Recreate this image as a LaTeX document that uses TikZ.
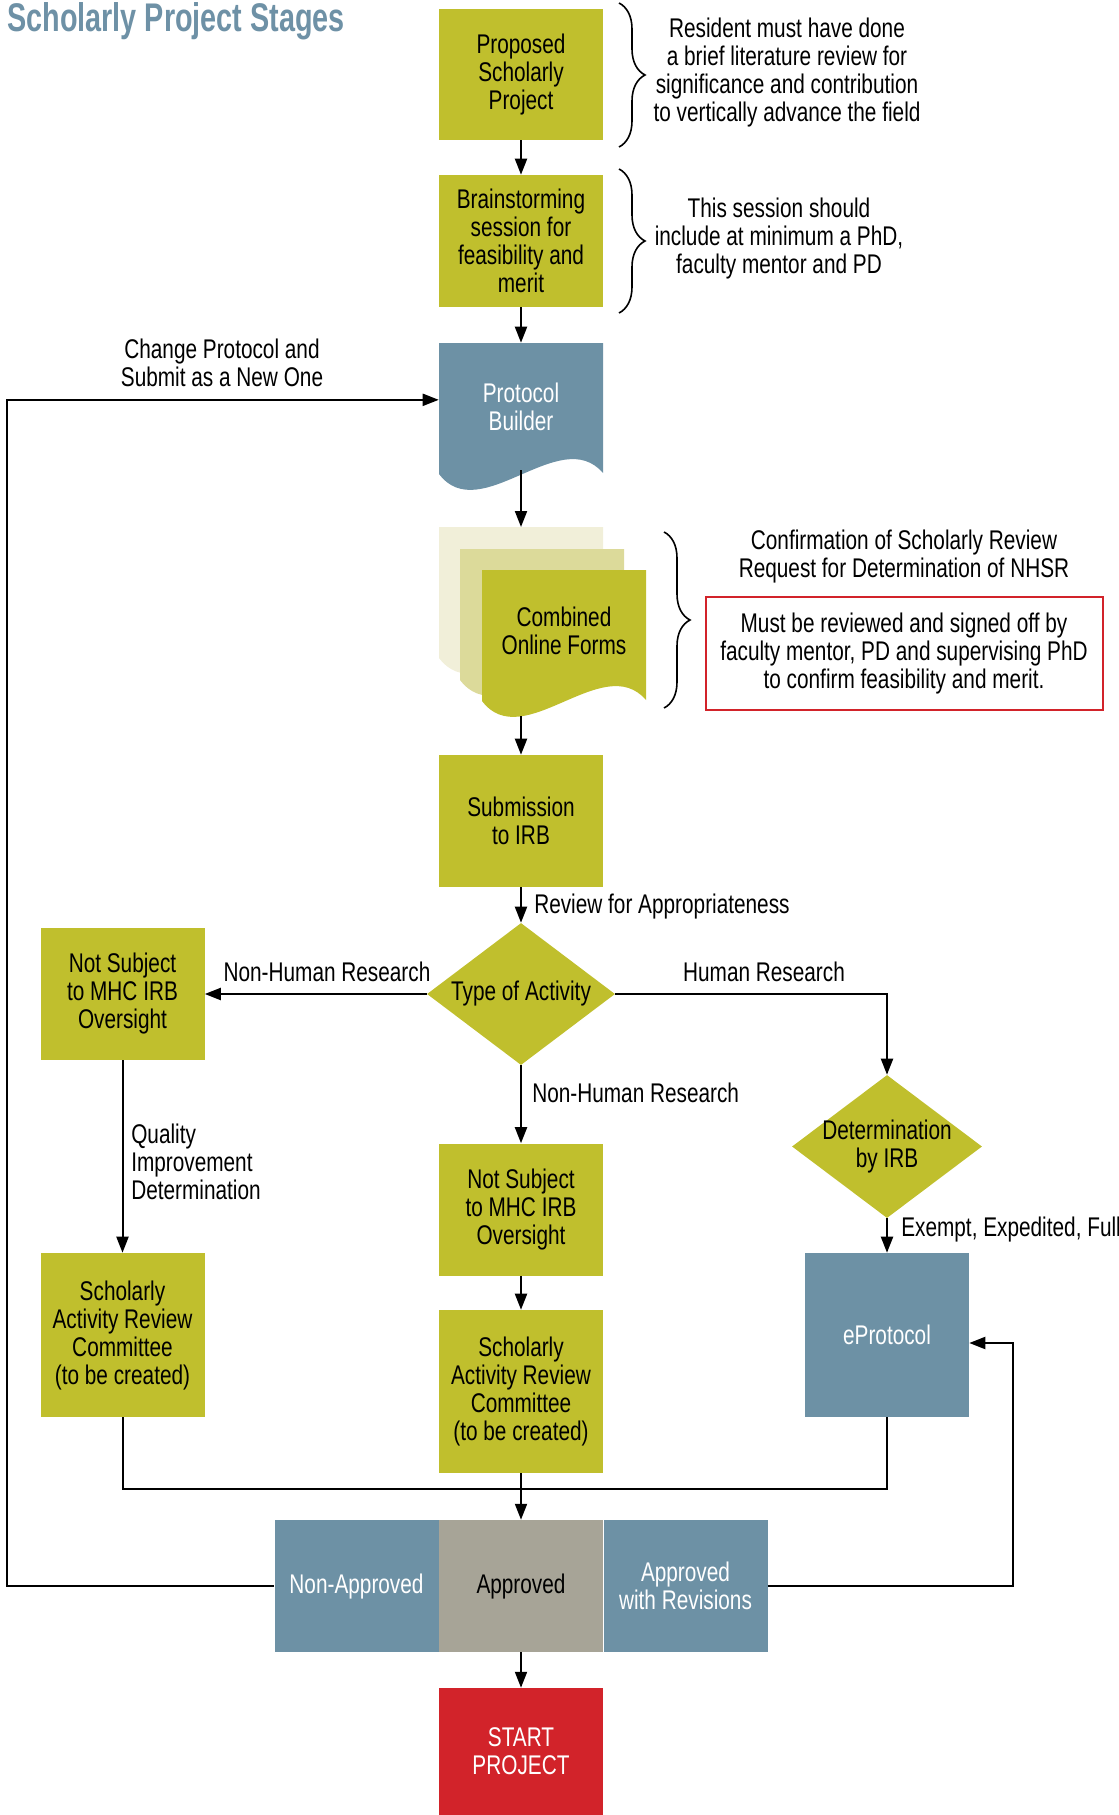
\documentclass[tikz,border=0pt]{standalone}
\usepackage{fontspec}
\setmainfont{Liberation Sans}[FakeStretch=0.77]
\usepackage{tikz}
\usetikzlibrary{positioning,shapes.geometric,arrows.meta,decorations.pathreplacing}

\definecolor{boxgreen}{RGB}{192,191,45}
\definecolor{boxblue}{RGB}{109,145,165}
\definecolor{boxgray}{RGB}{167,164,151}
\definecolor{boxred}{RGB}{210,35,42}
\definecolor{docpale}{RGB}{241,239,217}
\definecolor{docmid}{RGB}{220,218,154}
\definecolor{titleblue}{RGB}{110,145,166}

\begin{document}
\begin{tikzpicture}[x=0.75pt,y=0.75pt,yscale=-1,xscale=1,
  every node/.style={font=\fontsize{20.25}{21}\selectfont, align=center},
  greenbox/.style={fill=boxgreen, minimum width=123pt, minimum height=99pt, inner sep=0pt},
  bluebox/.style={fill=boxblue, text=white, minimum width=123pt, minimum height=99pt, inner sep=0pt},
  decision/.style={diamond, fill=boxgreen, inner sep=0pt},
  ann/.style={inner sep=0pt},
  arr/.style={line width=1.5pt, -{Triangle[length=12pt,width=9pt]}},
  conn/.style={line width=1.5pt},
  curly/.style={line width=1.2pt, decorate, decoration={brace, amplitude=19.5pt}}]
\useasboundingbox (0,0) rectangle (1118,1815);

% Text Node
\node[anchor=base west, inner sep=0pt, text=titleblue, font=\fontsize{30}{32}\selectfont\bfseries\addfontfeatures{FakeStretch=0.72}] (title) at (7,32) {Scholarly Project Stages};

%Shape: Rectangle
\node[greenbox, minimum height=98.25pt] (prop) at (521,74.5) {Proposed\\Scholarly\\Project};
%Shape: Rectangle
\node[greenbox] (brain) at (521,241) {Brainstorming\\session for\\feasibility and\\merit};

%Shape: Document
\fill[boxblue] (439,343) -- (603,343) -- (603,473) .. controls (560,423) and (480,528) .. (439,474) -- cycle;
\node[ann, text=white, minimum width=123pt, minimum height=95.25pt] (pb) at (521,406.5) {Protocol\\Builder};
\coordinate (pbout) at (521,475);

%Shape: Multiple Documents
\fill[docpale] (439,527) -- (603,527) -- (603,657) .. controls (560,607) and (480,712) .. (439,658) -- cycle;
\fill[docmid] (460,549) -- (624,549) -- (624,679) .. controls (581,629) and (501,734) .. (460,680) -- cycle;
\fill[boxgreen] (482,570) -- (646,570) -- (646,700) .. controls (603,650) and (523,755) .. (482,701) -- cycle;
\node[ann, minimum width=123pt, minimum height=93pt] (forms) at (564,631) {Combined\\Online Forms};
\coordinate (formsin) at (521,527);
\coordinate (formsout) at (521,716);

%Shape: Rectangle
\node[greenbox] (sub) at (521,821) {Submission\\to IRB};
%Shape: Diamond
\node[decision, minimum width=141pt, minimum height=106.5pt, aspect=1.32] (type) at (521,994) {Type of Activity};
%Shape: Rectangle
\node[greenbox] (nsl) at (122.5,994) {Not Subject\\to MHC IRB\\Oversight};
\node[greenbox, minimum height=123pt] (sarl) at (122.5,1335) {Scholarly\\Activity Review\\Committee\\(to be created)};
\node[greenbox] (nsm) at (521,1209.5) {Not Subject\\to MHC IRB\\Oversight};
\node[greenbox, minimum height=122.25pt] (sarm) at (521,1391.5) {Scholarly\\Activity Review\\Committee\\(to be created)};
%Shape: Diamond
\node[decision, inner sep=-3pt, minimum width=142.5pt, minimum height=107.25pt, aspect=1.33] (det) at (887,1146.5) {Determination\\by IRB};
%Shape: Rectangle
\node[bluebox, minimum height=123pt] (eprot) at (887,1335) {eProtocol};
\node[bluebox] (nonapp) at (356.5,1586) {Non-Approved};
\node[greenbox, fill=boxgray] (app) at (521,1586) {Approved};
\node[bluebox] (apprev) at (685.5,1586) {Approved\\with Revisions};
\node[bluebox, fill=boxred, minimum height=95.25pt] (start) at (521,1751.5) {START\\PROJECT};

% Text Node
\node[ann] (note1) at (787,73) {Resident must have done\\a brief literature review for\\significance and contribution\\to vertically advance the field};
\node[ann] (note2) at (779,239) {This session should\\include at minimum a PhD,\\faculty mentor and PD};
\node[ann] (note3) at (904,557) {Confirmation of Scholarly Review\\Request for Determination of NHSR};
\node[draw=boxred, line width=1.5pt, minimum width=297.75pt, minimum height=84.75pt, inner sep=0pt] (signoff) at (904,653.5) {Must be reviewed and signed off by\\faculty mentor, PD and supervising PhD\\to confirm feasibility and merit.};

%Curly Braces
\draw[curly] (619,3) -- (619,147);
\draw[curly] (619,169) -- (619,313);
\draw[curly] (664,532) -- (664,708);

% Text Node
\node[ann] (chg) at (222,363) {Change Protocol and\\Submit as a New One};
\node[ann, anchor=west] (rev) at (534,907) {Review for Appropriateness};
\node[ann] (nhl) at (327,972) {Non-Human Research};
\node[ann] (hr) at (764,972) {Human Research};
\node[ann, anchor=west] (nhm) at (532,1093) {Non-Human Research};
\node[ann, anchor=west, align=left] (qid) at (131,1162) {Quality\\Improvement\\Determination};
\node[ann, anchor=west] (eef) at (901,1230) {Exempt, Expedited, Full};

%Straight Lines
\coordinate (merge) at (521,1489);
\coordinate (lft) at (7,1586);
\coordinate (rgt) at (1013,1586);
\draw[arr] (prop) -- (brain);
\draw[arr] (brain) -- (pb);
\draw[arr] (pb) -- (formsin);
\draw[arr] (formsout) -- (sub);
\draw[arr] (sub) -- (type);
\draw[arr] (type) -- (nsl);
\draw[arr] (type.east) -| (det.north);
\draw[arr] (type) -- (nsm);
\draw[arr] (nsm) -- (sarm);
\draw[arr] (nsl) -- (sarl);
\draw[arr] (det) -- (eprot);
\draw[conn] (sarl.south) |- (merge) -| (eprot.south);
\draw[arr] (sarm) -- (app);
\draw[arr] (app) -- (start);
\draw[arr] (nonapp.west) -- (lft) |- ([yshift=-5pt]pb.west);
\draw[arr] (apprev.east) -- (rgt) |- ([yshift=6pt]eprot.east);
\end{tikzpicture}
\end{document}
